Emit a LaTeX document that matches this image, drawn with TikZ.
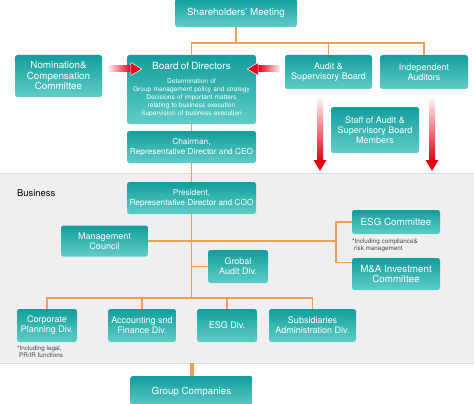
\documentclass[tikz,border=0pt]{standalone}
\usepackage{fontspec}
\setmainfont{TeX Gyre Heros}
\usetikzlibrary{calc}
\definecolor{boxtop}{RGB}{18,158,156}
\definecolor{boxbot}{RGB}{96,205,199}
\definecolor{lineor}{RGB}{240,160,82}
\definecolor{arred}{RGB}{230,0,24}
\definecolor{band}{RGB}{239,239,239}
\definecolor{bandedge}{RGB}{220,220,220}
\definecolor{notegray}{RGB}{70,70,70}
\begin{document}
\begin{tikzpicture}[x=1pt,y=-1pt,
  orgbox/.style={rounded corners=2.5pt, top color=boxtop, bottom color=boxbot, draw=none,
    text=white, align=center, inner sep=0pt},
  bigtxt/.style={font=\fontsize{9.8}{10.5}\selectfont},
  midtxt/.style={font=\fontsize{9}{10}\selectfont},
  smtxt/.style={font=\fontsize{8.3}{10}\selectfont},
  conn/.style={draw=lineor, line width=1.3pt},
  note/.style={font=\fontsize{6.3}{5.6}\selectfont, text=notegray, align=left, inner sep=0pt, anchor=north west}
]
\useasboundingbox (0,0) rectangle (474,404);
\fill[white] (0,0) rectangle (474,404);
% business band
\fill[band] (0,173) rectangle (474,363);
\draw[bandedge, line width=0.8pt] (0,173) -- (474,173) (0,363) -- (474,363);
\coordinate (bandbot) at (0,363);
\coordinate (bandtop) at (0,171);
\node[anchor=west, inner sep=0pt, font=\fontsize{9.4}{10}\selectfont] (biz) at (17,193) {Business};

% boxes
\node[orgbox, bigtxt, minimum width=122pt, minimum height=28pt] (sh) at (236,13) {Shareholders’ Meeting};
\node[orgbox, bigtxt, minimum width=87pt, minimum height=42pt] (nom) at (58.5,76) {Nomination\&\\Compensation\\Committee};
\node[orgbox, minimum width=129pt, minimum height=69pt, text width=129pt, font=\fontsize{6.6}{8.2}\selectfont] (bod) at (191.5,89.5)
  {{\fontsize{9.9}{10}\selectfont Board of Directors}\\[5.8pt]Determination of\\Group management policy and strategy\\Decisions of important matters\\relating to business execution\\Supervision of business execution};
\node[orgbox, midtxt, minimum width=87pt, minimum height=34pt] (asb) at (328.5,72) {Audit \&\\Supervisory Board};
\node[orgbox, midtxt, minimum width=88pt, minimum height=34pt] (ia) at (424,72) {Independent\\Auditors};
\node[orgbox, midtxt, minimum width=88pt, minimum height=46pt] (staff) at (375,130) {Staff of Audit \&\\Supervisory Board\\Members};
\node[orgbox, smtxt, minimum width=129pt, minimum height=32pt] (ch) at (191.5,147) {Chairman,\\Representative Director and CEO};
\node[orgbox, smtxt, minimum width=129pt, minimum height=32pt] (pres) at (191.5,198) {President,\\Representative Director and COO};
\node[orgbox, midtxt, minimum width=87pt, minimum height=31pt] (mc) at (104.5,241) {Management\\Council};
\node[orgbox, midtxt, minimum width=60pt, minimum height=33pt] (gad) at (238,266.5) {Grobal\\Audit Div.};
\node[orgbox, bigtxt, minimum width=88pt, minimum height=24pt] (esgc) at (396,222) {ESG Committee};
\node[orgbox, bigtxt, minimum width=88pt, minimum height=32pt] (ma) at (396,274) {M\&A Investment\\Committee};
\node[orgbox, midtxt, minimum width=60pt, minimum height=33pt] (cpd) at (47,325.5) {Corporate\\Planning Div.};
\node[orgbox, midtxt, minimum width=68pt, minimum height=33pt] (afd) at (142,325.5) {Accounting snd\\Finance Div.};
\node[orgbox, midtxt, minimum width=60pt, minimum height=33pt] (esgd) at (227,325.5) {ESG Div.};
\node[orgbox, midtxt, minimum width=87pt, minimum height=33pt] (sad) at (312.5,325.5) {Subsidiaries\\Administration Div.};
\node[orgbox, bigtxt, minimum width=122pt, minimum height=32pt] (gc) at (191.5,392) {Group Companies};

% notes
\node[note] (n1) at (352,239) {*Including compliance\&\\\hspace*{2pt}risk management};
\node[note] (n2) at (17,346) {*Including legal,\\\hspace*{2pt}PR/IR functions};

% orange connectors
\coordinate (top) at (236,43);
\draw[conn] (sh.south) -- (top);
\draw[conn] (bod.north) |- (top) -| (ia.north);
\draw[conn] (asb.north) -- (asb.north |- top);
\draw[conn] (bod.south) -- (ch.north);
\draw[conn] (ch.south) -- (pres.north);
\coordinate (dl) at (191.5,298);
\draw[conn] (pres.south) -- (dl);
\draw[conn] (cpd.north) |- (dl) -| (sad.north);
\draw[conn] (afd.north) -- (afd.north |- dl);
\draw[conn] (esgd.north) -- (esgd.north |- dl);
\coordinate (br) at (336,241);
\draw[conn] (mc.east) -- (br);
\coordinate (ma1) at ($(ma.north west)+(0,5)$);
\draw[conn] (esgc.west) -| (br |- ma1) -- (ma1);
\draw[conn] (gad.west) -- (gad.west -| pres.south);
\draw[draw=lineor, line width=4pt] (gc.north |- bandbot) -- (gc.north);

% red gradient arrows
\coordinate (h1s) at ($(nom.east)+(6,-7)$);
\coordinate (h1t) at ($(bod.west |- h1s)+(15,0)$);
\coordinate (h2s) at ($(asb.west)+(-5,-3)$);
\coordinate (h2t) at ($(bod.east |- h2s)+(-9,0)$);
\coordinate (v1s) at ($(asb.south)+(-8.5,8)$);
\coordinate (v1t) at (v1s |- bandtop);
\coordinate (v2s) at ($(ia.south)+(8,8)$);
\coordinate (v2t) at (v2s |- bandtop);

\shade[left color=arred!6, right color=arred] let \p1=(h1s), \p2=(h1t) in (\x1,\y1-3pt) rectangle (\x2-11pt,\y1+3pt);
\filldraw[fill=arred, draw=white, line width=0.5pt] let \p1=(h1s), \p2=(h1t) in (\x2-11pt,\y1-6.5pt) -- (\x2,\y1) -- (\x2-11pt,\y1+6.5pt) -- cycle;
\shade[left color=arred, right color=arred!6] let \p1=(h2s), \p2=(h2t) in (\x2+11pt,\y1-3pt) rectangle (\x1,\y1+3pt);
\filldraw[fill=arred, draw=white, line width=0.5pt] let \p1=(h2s), \p2=(h2t) in (\x2+11pt,\y1-6.5pt) -- (\x2,\y1) -- (\x2+11pt,\y1+6.5pt) -- cycle;
\shade[top color=arred!3, bottom color=arred] let \p1=(v1s), \p2=(v1t) in (\x1-3pt,\y1) rectangle (\x1+3pt,\y2+11pt);
\fill[arred] let \p1=(v1s), \p2=(v1t) in (\x1-6.5pt,\y2+11pt) -- (\x1,\y2) -- (\x1+6.5pt,\y2+11pt) -- cycle;
\shade[top color=arred!3, bottom color=arred] let \p1=(v2s), \p2=(v2t) in (\x1-3pt,\y1) rectangle (\x1+3pt,\y2+11pt);
\fill[arred] let \p1=(v2s), \p2=(v2t) in (\x1-6.5pt,\y2+11pt) -- (\x1,\y2) -- (\x1+6.5pt,\y2+11pt) -- cycle;
\end{tikzpicture}
\end{document}
